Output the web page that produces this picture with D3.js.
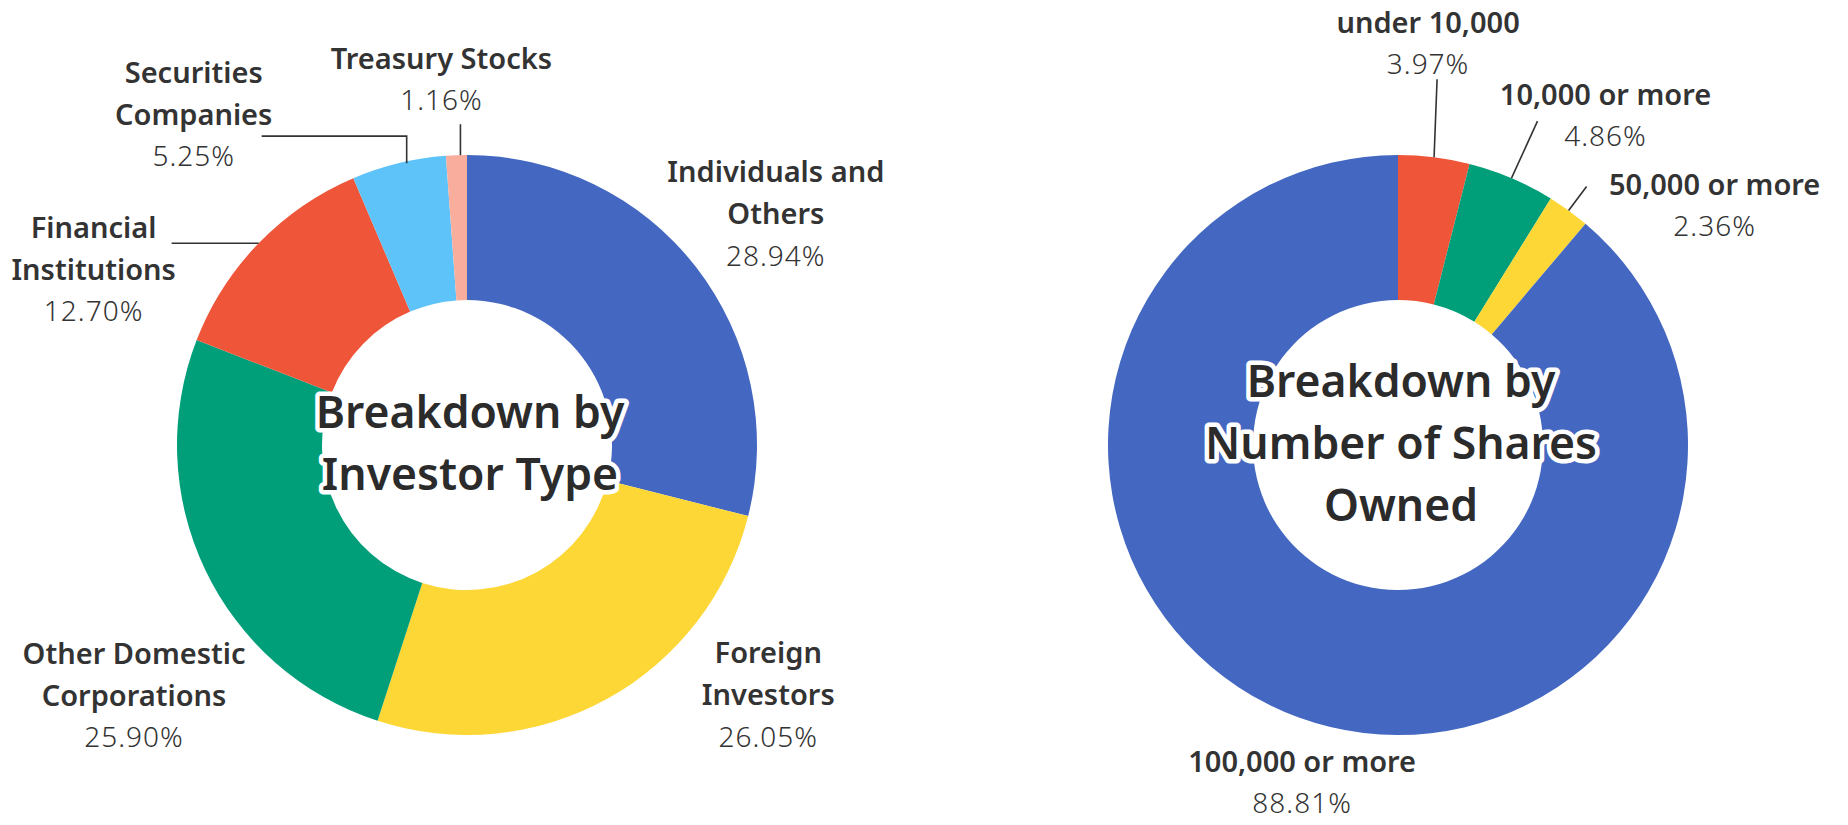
<!DOCTYPE html>
<html>
<head>
<meta charset="utf-8">
<script src="https://cdn.jsdelivr.net/npm/d3@7"></script>
<style>
  html, body { margin: 0; padding: 0; background: #ffffff; }
  svg { display: block; }
  .name { font-family: "Noto Sans", "DejaVu Sans", sans-serif; font-weight: 600; fill: #333333; }
  .value { font-family: "Noto Sans", "DejaVu Sans", sans-serif; font-weight: 300; fill: #333333; letter-spacing: 1px; }
  .title { font-family: "Noto Sans", "DejaVu Sans", sans-serif; font-weight: 600; fill: #2b2b2b;
           stroke: #ffffff; stroke-width: 9px; stroke-linejoin: round; paint-order: stroke; }
</style>
</head>
<body>
<script>
// ---------- data ----------
const investorCategories = ["Individuals and Others", "Foreign Investors", "Other Domestic Corporations",
                            "Financial Institutions", "Securities Companies", "Treasury Stocks"];
const investorLabelLines = [["Individuals and", "Others"], ["Foreign", "Investors"], ["Other Domestic", "Corporations"],
                            ["Financial", "Institutions"], ["Securities", "Companies"], ["Treasury Stocks"]];
const investorValues = [28.94, 26.05, 25.90, 12.70, 5.25, 1.16];
const investorTitle = ["Breakdown by", "Investor Type"];

const sharesCategories = ["under 10,000", "10,000 or more", "50,000 or more", "100,000 or more"];
const sharesLabelLines = [["under 10,000"], ["10,000 or more"], ["50,000 or more"], ["100,000 or more"]];
const sharesValues = [3.97, 4.86, 2.36, 88.81];
const sharesTitle = ["Breakdown by", "Number of Shares", "Owned"];

// ---------- styles / layout ----------
const investorColors = ["#4468c1", "#fdd735", "#009e79", "#ee5539", "#5ec3f9", "#f8ad9d"];
const sharesColors = ["#ee5539", "#009e79", "#fdd735", "#4468c1"];

// label offsets (from slice's outer mid point) and leader line paths (relative to same point)
const investorLabelOffsets = [[80, -96], [161, -47], [-71, 83], [-165, -17], [-205, -92], [-15, -98]];
const investorLeaders = [null, null, null, [[0, 0], [-87, 0]], [[8, 0], [8, -27], [-137, -27]], [[4, 0], [4, -31]]];
const sharesLabelOffsets = [[-6, -136], [94, -85], [146, -27], [4, 43]];
const sharesLeaders = [[[0, 0], [3, -78]], [[0, 0], [26, -57]], [[0, 0], [18, -24]], null];

const W = 1848, H = 825;
const R = 290, r = 145;
const nameSize = 29, valueSize = 28, lineGap = 42;
const titleSize = 44.5, titleGap = 62;

const svg = d3.select("body").append("svg").attr("width", W).attr("height", H);

function drawDonut(cx, cy, cats, lines, values, colors, offsets, leaders, title) {
  const g = svg.append("g").attr("transform", `translate(${cx},${cy})`);
  const pie = d3.pie().sort(null).value(d => d.v);
  const data = pie(values.map((v, i) => ({ v, i, name: cats[i] })));
  const arc = d3.arc().innerRadius(r).outerRadius(R);
  const edge = d3.arc().innerRadius(R).outerRadius(R);

  g.selectAll("path.slice").data(data).join("path")
    .attr("class", "slice")
    .attr("d", arc)
    .attr("fill", d => colors[d.data.i]);

  data.forEach(d => {
    const i = d.data.i;
    const [px, py] = edge.centroid(d);
    if (leaders[i]) {
      g.append("path")
        .attr("d", d3.line()(leaders[i].map(p => [px + p[0], py + p[1]])))
        .attr("fill", "none").attr("stroke", "#333").attr("stroke-width", 1.6);
    }
    const lx = px + offsets[i][0], ly = py + offsets[i][1];
    const t = g.append("g").attr("transform", `translate(${lx},${ly})`);
    lines[i].forEach((ln, k) => {
      t.append("text").attr("class", "name")
        .attr("text-anchor", "middle").attr("dominant-baseline", "central")
        .attr("y", k * lineGap).style("font-size", nameSize + "px").text(ln);
    });
    t.append("text").attr("class", "value")
      .attr("text-anchor", "middle").attr("dominant-baseline", "central")
      .attr("y", lines[i].length * lineGap).style("font-size", valueSize + "px")
      .text(d3.format(".2f")(d.data.v) + "%");
  });

  const n = title.length;
  title.forEach((ln, k) => {
    g.append("text").attr("class", "title")
      .attr("text-anchor", "middle").attr("dominant-baseline", "central")
      .attr("x", 3)
      .attr("y", -4 + (k - (n - 1) / 2) * titleGap)
      .style("font-size", titleSize + "px").text(ln);
  });
}

drawDonut(467, 445, investorCategories, investorLabelLines, investorValues, investorColors,
          investorLabelOffsets, investorLeaders, investorTitle);
drawDonut(1398, 445, sharesCategories, sharesLabelLines, sharesValues, sharesColors,
          sharesLabelOffsets, sharesLeaders, sharesTitle);
</script>
</body>
</html>
